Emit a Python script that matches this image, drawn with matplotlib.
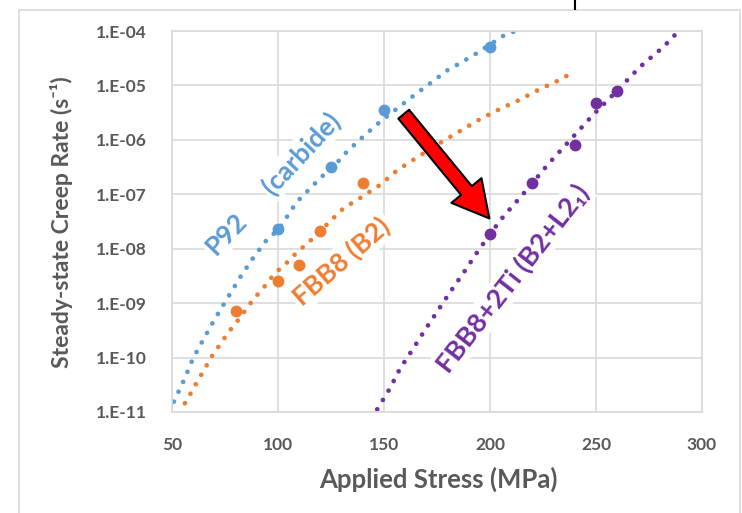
import matplotlib
matplotlib.use('Agg')
import matplotlib.pyplot as plt
from matplotlib.lines import Line2D
from matplotlib.patches import Rectangle

plt.rcParams['font.family'] = ['Lato', 'DejaVu Sans']

# measured creep data (stress in MPa, rate in 1/s)
p92_stress = [100, 125, 150, 200]
p92_rate = [2.35e-8, 3.2e-7, 3.5e-6, 5.0e-5]
fbb8_stress = [80, 100, 110, 120, 140]
fbb8_rate = [7.3e-10, 2.55e-9, 5.0e-9, 2.14e-8, 1.63e-7]
ti_stress = [200, 220, 240, 250, 260]
ti_rate = [1.9e-8, 1.63e-7, 8.0e-7, 4.8e-6, 8.0e-6]

# trend curves
p92_fit_stress = [50.9, 55.7, 60.0, 65.2, 70.8, 76.6, 82.4, 88.4, 95.0, 100.1, 108.8,
                  120.6, 126.1, 132.4, 140.2, 148.1, 155.9, 164.2, 172.5, 180.7, 185.0,
                  193.7, 207.0, 212.0]
p92_fit_rate = [1.55e-11, 3.9e-11, 9.8e-11, 2.3e-10, 5.6e-10, 1.32e-9, 3.1e-9, 6.9e-9,
                1.51e-8, 2.2e-8, 7.2e-8, 2.1e-7, 3.2e-7, 6.0e-7, 1.15e-6, 2.14e-6,
                3.7e-6, 6.6e-6, 1.15e-5, 2.0e-5, 2.45e-5, 3.9e-5, 8.5e-5, 1.0e-4]
fbb8_fit_stress = [56.1, 58.8, 61.7, 64.3, 67.1, 70.0, 73.1, 76.1, 79.7, 82.9, 86.0,
                   89.5, 93.1, 96.2, 100.1, 104.1, 108.0, 116.7, 123.7, 130.8, 140.2,
                   148.1, 155.9, 164.6, 177.9, 186.6, 195.3, 204.7, 214.2, 222.8, 232.2,
                   236.9]
fbb8_fit_rate = [1.45e-11, 2.2e-11, 3.5e-11, 5.2e-11, 8.1e-11, 1.26e-10, 1.82e-10,
                 2.75e-10, 4.1e-10, 6.0e-10, 8.9e-10, 1.32e-9, 1.9e-9, 2.75e-9, 4.0e-9,
                 5.5e-9, 7.9e-9, 1.58e-8, 2.95e-8, 5.5e-8, 9.3e-8, 1.48e-7, 2.7e-7,
                 4.5e-7, 9.5e-7, 1.51e-6, 2.4e-6, 3.7e-6, 5.5e-6, 8.3e-6, 1.23e-5, 1.55e-5]
ti_fit_stress = [146.8, 152.5, 157.5, 163.5, 169.3, 175.3, 181.5, 187.7, 193.7, 200.0,
                 206.3, 217.3, 227.5, 239.3, 248.7, 259.8, 270.8, 281.8, 288.8]
ti_fit_rate = [1.12e-11, 2.6e-11, 6.2e-11, 1.41e-10, 3.2e-10, 7.2e-10, 1.66e-9, 3.7e-9,
               8.3e-9, 1.86e-8, 3.9e-8, 1.2e-7, 3.6e-7, 1.15e-6, 2.9e-6, 7.9e-6, 2.2e-5,
               5.1e-5, 9.8e-5]

x_ticks = [50, 100, 150, 200, 250, 300]
y_ticks = [1e-11, 1e-10, 1e-9, 1e-8, 1e-7, 1e-6, 1e-5, 1e-4]
y_ticklabels = ['1.E-11', '1.E-10', '1.E-09', '1.E-08', '1.E-07', '1.E-06', '1.E-05', '1.E-04']

BLUE = '#5B9BD5'
ORANGE = '#ED7D31'
PURPLE = '#7030A0'
GRAY = '#595959'
GRID = '#D9D9D9'

fig = plt.figure(figsize=(7.42, 5.13), dpi=100)
ax = fig.add_axes([172 / 742, 1 - 412 / 513, 530 / 742, 381 / 513])
ax.set_yscale('log')
ax.set_xlim(50, 300)
ax.set_ylim(1e-11, 1e-4)

dots = (0, (0.01, 2.3))
for xs, ys, c in [(p92_fit_stress, p92_fit_rate, BLUE),
                  (fbb8_fit_stress, fbb8_fit_rate, ORANGE),
                  (ti_fit_stress, ti_fit_rate, PURPLE)]:
    ax.plot(xs, ys, color=c, lw=3.4, linestyle=dots, dash_capstyle='round', zorder=2)

for xs, ys, c in [(p92_stress, p92_rate, BLUE),
                  (fbb8_stress, fbb8_rate, ORANGE),
                  (ti_stress, ti_rate, PURPLE)]:
    ax.plot(xs, ys, 'o', color=c, ms=7.5, zorder=3)

ax.set_xticks(x_ticks)
ax.set_xticklabels([str(v) for v in x_ticks])
ax.set_yticks(y_ticks)
ax.set_yticklabels(y_ticklabels)
ax.minorticks_off()
ax.tick_params(axis='both', length=0, labelcolor=GRAY)
ax.tick_params(axis='y', pad=18, labelsize=12.5)
ax.tick_params(axis='x', pad=18, labelsize=12.5)
for lab in ax.get_xticklabels() + ax.get_yticklabels():
    lab.set_fontweight('bold')

ax.grid(True, color=GRID, lw=1.2, zorder=0.5)
ax.set_axisbelow(True)
for sp in ax.spines.values():
    sp.set_color(GRID)
    sp.set_linewidth(1.2)

fig.text(62 / 742, 1 - 222 / 513, 'Steady-state Creep Rate (s⁻¹)', rotation=90,
         ha='center', va='center', color=GRAY, fontsize=16.5, fontweight='bold')
fig.text(438 / 742, 1 - 479 / 513, 'Applied Stress (MPa)', ha='center', va='center',
         color=GRAY, fontsize=18.5, fontweight='bold')

# curve labels (white boxes hide the grid, the series stay on top)
box = dict(facecolor='white', edgecolor='none', pad=2)
ax.text(75.8, 1.9e-8, 'P92', color=BLUE, rotation=46, ha='center', va='center',
        fontsize=19, fontweight='bold', rotation_mode='anchor', bbox=box, zorder=1.5)
ax.text(111.2, 5.7e-7, '(carbide)', color=BLUE, rotation=47, ha='center', va='center',
        fontsize=19, fontweight='bold', rotation_mode='anchor', bbox=box, zorder=1.5)
ax.text(130.1, 5.9e-9, 'FBB8 (B2)', color=ORANGE, rotation=41, ha='center', va='center',
        fontsize=19, fontweight='bold', rotation_mode='anchor', bbox=box, zorder=1.5)
ax.text(210.6, 2.8e-9, 'FBB8+2Ti (B2+L2₁)', color=PURPLE, rotation=52, ha='center',
        va='center', fontsize=19.5, fontweight='bold', rotation_mode='anchor',
        bbox=box, zorder=1.5)

ax.annotate('', xy=(199.7, 3.6e-8), xytext=(159.3, 2.96e-6),
            arrowprops=dict(arrowstyle='simple,head_length=26,head_width=28,tail_width=10',
                            mutation_scale=1, fc='red', ec='black', lw=1.5,
                            shrinkA=0, shrinkB=0), zorder=4)

# outer chart border and the edge of the slide content above
fig.add_artist(Rectangle((19 / 742, -0.02), 721 / 742, 1 - 9.5 / 513 + 0.02,
                         transform=fig.transFigure, fill=False, ec=GRID, lw=1.2))
fig.add_artist(Line2D([575 / 742, 575 / 742], [1 - 9 / 513, 1.0],
                      transform=fig.transFigure, color='black', lw=1.5))

fig.savefig('out.png', dpi=100)
